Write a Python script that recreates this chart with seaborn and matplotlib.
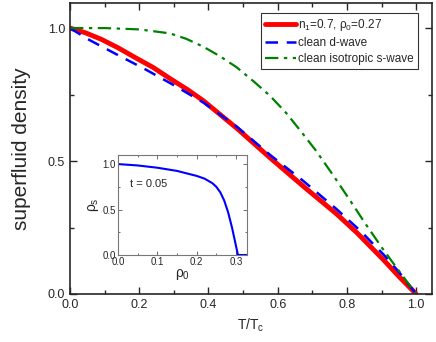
import numpy as np
import pandas as pd
import matplotlib
matplotlib.use("Agg")
import matplotlib.pyplot as plt
import seaborn as sns
from matplotlib.ticker import MultipleLocator

# main panel data
t_red = [0.0, 0.045, 0.09, 0.14, 0.187, 0.24, 0.289, 0.34, 0.385, 0.482, 0.578, 0.674,
         0.771, 0.829, 0.906, 0.95, 1.0]
rho_red = [1.0, 0.982, 0.958, 0.925, 0.890, 0.852, 0.810, 0.768, 0.727, 0.623, 0.512, 0.405,
           0.300, 0.230, 0.128, 0.066, 0.0]

t_d = [0.0, 0.052, 0.139, 0.216, 0.299, 0.385, 0.482, 0.578, 0.674, 0.771, 0.84, 0.906, 0.95, 1.0]
rho_d = [1.0, 0.958, 0.898, 0.846, 0.786, 0.720, 0.629, 0.523, 0.425, 0.318, 0.236, 0.148, 0.083, 0.0]

t_s = [0.0, 0.1, 0.2, 0.289, 0.335, 0.385, 0.432, 0.482, 0.53, 0.578, 0.625, 0.665,
       0.71, 0.761, 0.81, 0.853, 0.906, 0.954, 1.0]
rho_s = [1.0, 1.0, 0.995, 0.98, 0.96, 0.93, 0.895, 0.852, 0.80, 0.745, 0.68, 0.615,
         0.54, 0.445, 0.35, 0.265, 0.165, 0.08, 0.0]

# inset data (t = 0.05)
rho0_in = [0.0, 0.05, 0.1, 0.15, 0.2, 0.22, 0.24, 0.25, 0.26, 0.27, 0.28, 0.29, 0.30, 0.305, 0.33]
rhos_in = [1.0, 0.985, 0.96, 0.925, 0.87, 0.84, 0.79, 0.75, 0.69, 0.60, 0.47, 0.30, 0.10, 0.0, 0.0]

sns.set_style("ticks")
plt.rcParams['font.family'] = ['Liberation Sans', 'DejaVu Sans']
plt.rcParams['mathtext.fontset'] = 'custom'
plt.rcParams['mathtext.rm'] = 'Liberation Sans'
plt.rcParams['mathtext.it'] = 'Liberation Sans'

fig = plt.figure(figsize=(4.36, 3.42), dpi=100)
ax = fig.add_axes([0.1606, 0.1404, 0.8304, 0.8506])

sns.lineplot(x=t_red, y=rho_red, ax=ax, color='red', lw=3.5,
             label=r'n$_1$=0.7, $\rho_0$=0.27')
sns.lineplot(x=t_d, y=rho_d, ax=ax, color='blue', lw=1.8,
             linestyle=(0, (5, 3.5)), label='clean d-wave')
sns.lineplot(x=t_s, y=rho_s, ax=ax, color='green', lw=1.6,
             linestyle=(0, (6, 2.5, 1.5, 2.5)), label='clean isotropic s-wave')

ax.set_xlim(0, 1.046)
ax.set_ylim(0, 1.094)
ax.set_xticks([0, 0.2, 0.4, 0.6, 0.8, 1.0])
ax.set_xticklabels(['0.0', '0.2', '0.4', '0.6', '0.8', '1.0'])
ax.set_yticks([0, 0.5, 1.0])
ax.set_yticklabels(['0.0', '0.5', '1.0'])
ax.xaxis.set_minor_locator(MultipleLocator(0.1))
ax.yaxis.set_minor_locator(MultipleLocator(0.25))
ax.tick_params(which='both', direction='in', top=True, right=True, labelsize=9, width=1)
ax.tick_params(which='major', length=5)
ax.tick_params(which='minor', length=3)
for s in ax.spines.values():
    s.set_linewidth(1.2)
ax.set_xlabel(r'T/T$_\mathregular{c}$', fontsize=10)
ax.set_ylabel('superfluid density', fontsize=15, labelpad=12)

leg = ax.legend(loc='upper right', bbox_to_anchor=(0.961, 0.966), fontsize=8.5,
                frameon=True, fancybox=False, edgecolor='black', handlelength=2.6,
                handletextpad=0.2, borderpad=0.35, labelspacing=0.35, borderaxespad=0)
leg.get_frame().set_linewidth(0.8)

# inset
ins = fig.add_axes([0.2706, 0.2544, 0.2959, 0.2924])
sns.lineplot(x=rho0_in, y=rhos_in, ax=ins, color='blue', lw=1.5)
ins.set_xlim(0, 0.328)
ins.set_ylim(0, 1.1)
ins.set_xticks([0, 0.1, 0.2, 0.3])
ins.set_xticklabels(['0.0', '0.1', '0.2', '0.3'])
ins.set_yticks([0, 0.5, 1.0])
ins.set_yticklabels(['0.0', '0.5', '1.0'])
ins.xaxis.set_minor_locator(MultipleLocator(0.05))
ins.yaxis.set_minor_locator(MultipleLocator(0.25))
ins.tick_params(which='both', direction='in', top=True, right=True, labelsize=7,
                pad=1.5, width=0.6, color='#555555')
ins.tick_params(which='major', length=3)
ins.tick_params(which='minor', length=1.5)
for s in ins.spines.values():
    s.set_linewidth(0.8)
    s.set_color('#777777')
ins.set_xlabel(r'$\rho_0$', fontsize=10, labelpad=0)
ins.set_ylabel(r'$\rho_\mathregular{s}$', fontsize=10, labelpad=1)
ins.text(0.03, 0.75, 't = 0.05', fontsize=8)

fig.savefig('out.png', dpi=100)
